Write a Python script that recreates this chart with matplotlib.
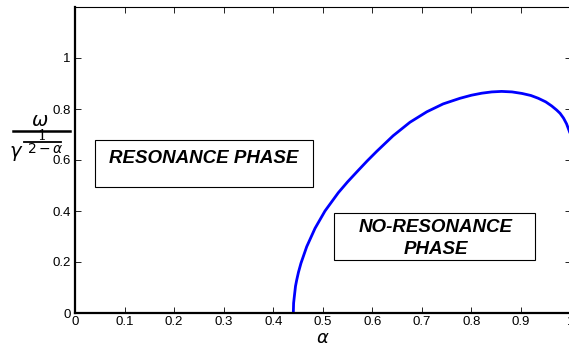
import matplotlib
matplotlib.use("Agg")
import matplotlib.pyplot as plt
from matplotlib.patches import Rectangle
from matplotlib.lines import Line2D

alpha = [0.4406, 0.4412, 0.4426, 0.445, 0.4474, 0.451, 0.456, 0.4676, 0.4844, 0.5045,
         0.5315, 0.55, 0.572, 0.59, 0.609, 0.642, 0.676, 0.710, 0.743, 0.777,
         0.80, 0.821, 0.841, 0.861, 0.882, 0.902, 0.92, 0.935, 0.95, 0.962,
         0.972, 0.979, 0.986, 0.992, 0.997, 1.0]
ratio = [0.0, 0.039, 0.064, 0.105, 0.129, 0.160, 0.195, 0.260, 0.332, 0.400,
         0.472, 0.514, 0.560, 0.597, 0.634, 0.695, 0.748, 0.789, 0.820, 0.842,
         0.854, 0.862, 0.867, 0.869, 0.867, 0.861, 0.853, 0.842, 0.828, 0.812,
         0.796, 0.783, 0.764, 0.742, 0.716, 0.70]
xticks = [0, 0.1, 0.2, 0.3, 0.4, 0.5, 0.6, 0.7, 0.8, 0.9, 1]
xticklabels = ["0", "0.1", "0.2", "0.3", "0.4", "0.5", "0.6", "0.7", "0.8", "0.9", "1"]
yticks = [0, 0.2, 0.4, 0.6, 0.8, 1]
yticklabels = ["0", "0.2", "0.4", "0.6", "0.8", "1"]

W, H = 569, 348
fig = plt.figure(figsize=(W / 100, H / 100), dpi=100)
ax = fig.add_axes([75 / W, 1 - 313 / H, 495.5 / W, 306 / H])
ax.plot(alpha, ratio, color=(0, 0, 1), lw=2.0, solid_capstyle="butt",
        solid_joinstyle="round")
ax.set_xlim(0, 1)
ax.set_ylim(0, 1.2)
ax.set_xticks(xticks)
ax.set_xticklabels(xticklabels)
ax.set_yticks(yticks)
ax.set_yticklabels(yticklabels)
ax.tick_params(direction="in", length=4.5, width=0.6, labelsize=9.5,
               top=True, right=True)
ax.tick_params(axis="x", pad=2)
ax.tick_params(axis="y", pad=3)
for lab in ax.get_xticklabels() + ax.get_yticklabels():
    lab.set_fontfamily("Liberation Sans")
ax.spines["left"].set_linewidth(1.6)
ax.spines["bottom"].set_linewidth(1.6)
ax.spines["top"].set_linewidth(0.8)
ax.spines["right"].set_linewidth(0.8)

def px(x, y):
    return x / W, 1 - y / H

# x label
fig.text(*px(323, 343), r"$\alpha$", fontsize=13, ha="center", va="baseline")

# y label: omega / gamma^(1/(2-alpha)), built from pieces
fig.text(*px(40, 121), r"$\omega$", fontsize=14, ha="center", va="center")
fig.add_artist(Line2D([13 / W, 70 / W], [1 - 131 / H] * 2, color="black", lw=1.8,
                      transform=fig.transFigure))
fig.text(*px(42, 136), "1", fontsize=10, ha="center", va="center",
         family="DejaVu Serif")
fig.add_artist(Line2D([24 / W, 61 / W], [1 - 142 / H] * 2, color="black", lw=1.3,
                      transform=fig.transFigure))
fig.text(*px(16, 153), r"$\gamma$", fontsize=14, ha="center", va="center")
fig.text(*px(45, 149), r"$2-\alpha$", fontsize=10, ha="center", va="center")

# text boxes (figure pixel coords)
def box(x0, y0, x1, y1):
    fig.patches.append(Rectangle((x0 / W, 1 - y1 / H), (x1 - x0) / W, (y1 - y0) / H,
                                 transform=fig.transFigure, fill=False,
                                 edgecolor="black", lw=0.8))

tstyle = dict(fontsize=13.5, fontweight="bold", fontstyle="italic",
              family="Liberation Sans", ha="center", va="center")
box(95, 140, 312.5, 186.5)
fig.text(*px(204, 158), "RESONANCE PHASE", **tstyle)
box(334, 213, 535, 260)
fig.text(*px(436, 228), "NO-RESONANCE", **tstyle)
fig.text(*px(436, 250), "PHASE", **tstyle)

fig.savefig("out.png", dpi=100)
